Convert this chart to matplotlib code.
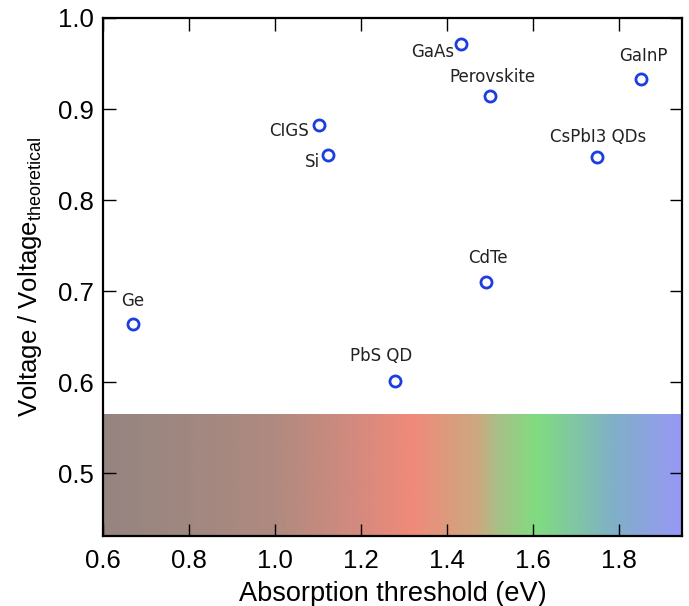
import numpy as np
import matplotlib
matplotlib.use("Agg")
import matplotlib.pyplot as plt
from matplotlib.colors import LinearSegmentedColormap

# dane: próg absorpcji (eV) i stosunek napięć
materials = ['Ge', 'PbS QD', 'CIGS', 'Si', 'GaAs', 'Perovskite', 'CdTe', 'CsPbI3 QDs', 'GaInP']
threshold = [0.670, 1.279, 1.102, 1.123, 1.433, 1.500, 1.491, 1.749, 1.851]
voltage_ratio = [0.664, 0.601, 0.882, 0.849, 0.971, 0.914, 0.710, 0.847, 0.933]

# przesunięcia etykiet w pikselach (dx, dy, wyrównanie)
label_pos = [(0, 23, 'center'), (-14, 25, 'center'), (-10, -6, 'right'), (-8, -7, 'right'),
             (-7, -8, 'right'), (2, 19, 'center'), (2, 24, 'center'), (1, 20, 'center'),
             (2, 23, 'center')]

xlim = (0.6, 1.946)
ylim = (0.431, 1.0)
band_top = 0.565

# kolory gradientu widma
stops = [(0.60, '#968480'), (0.80, '#a08880'), (1.00, '#b08a80'), (1.20, '#d68a7e'),
         (1.32, '#f08a7a'), (1.47, '#cca880'), (1.52, '#a8c088'), (1.61, '#80dc80'),
         (1.79, '#80b0c8'), (1.946, '#9898f6')]

plt.rcParams['font.family'] = ['Liberation Sans', 'DejaVu Sans']

fig = plt.figure(figsize=(6.89, 6.06), dpi=100)
ax = fig.add_axes([0.1495, 0.1155, 0.8403, 0.8548])

cmap = LinearSegmentedColormap.from_list(
    'spectrum', [((x - xlim[0]) / (xlim[1] - xlim[0]), c) for x, c in stops])
grad = np.linspace(0, 1, 512).reshape(1, -1)
ax.imshow(grad, cmap=cmap, aspect='auto', extent=[xlim[0], xlim[1], ylim[0], band_top],
          zorder=0, interpolation='bilinear')

ax.plot(threshold, voltage_ratio, 'o', markersize=8, markerfacecolor='none',
        markeredgecolor='#1c3ee0', markeredgewidth=2, zorder=3)

for name, x, y, (dx, dy, ha) in zip(materials, threshold, voltage_ratio, label_pos):
    ax.annotate(name, (x, y), xytext=(dx, dy), textcoords='offset pixels',
                ha=ha, va='center', fontsize=12, color='#222222', family='DejaVu Sans')

ax.set_xlim(*xlim)
ax.set_ylim(*ylim)
ax.set_xticks([0.6, 0.8, 1.0, 1.2, 1.4, 1.6, 1.8])
ax.set_yticks([0.5, 0.6, 0.7, 0.8, 0.9, 1.0])
ax.xaxis.set_major_formatter(plt.FormatStrFormatter('%.1f'))
ax.yaxis.set_major_formatter(plt.FormatStrFormatter('%.1f'))
ax.tick_params(direction='in', length=9, width=1, top=True, right=True, labelsize=18.5)
ax.tick_params(axis='x', pad=9)
ax.tick_params(axis='y', pad=6.5)
for s in ax.spines.values():
    s.set_linewidth(1.6)

ax.set_xlabel('Absorption threshold (eV)', fontsize=19.5, labelpad=6)
ax.set_ylabel('Voltage / Voltage$_\\mathregular{theoretical}$', fontsize=18.5, labelpad=10)

fig.savefig('out.png', dpi=100)
